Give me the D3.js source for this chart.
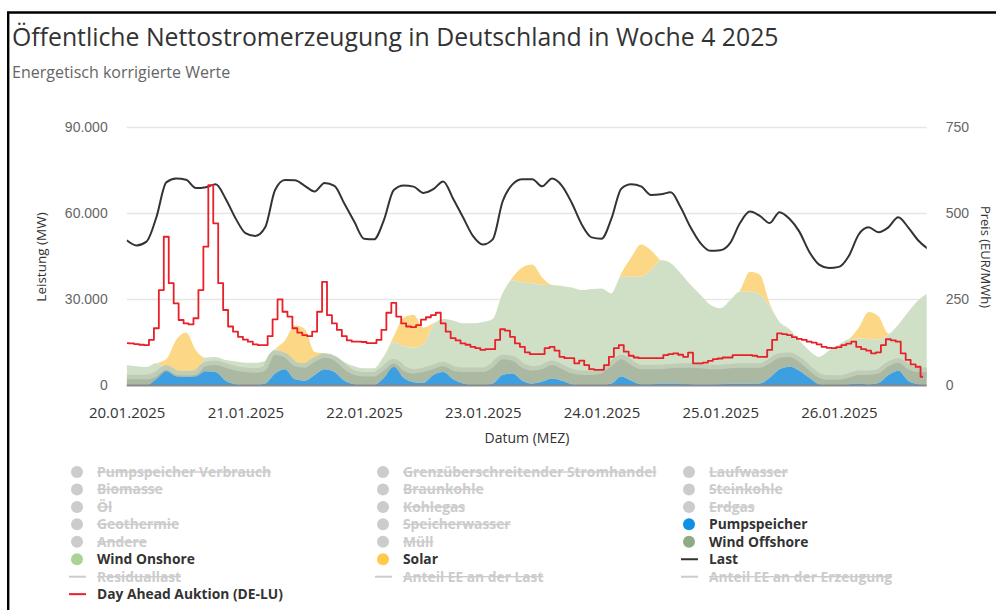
<!DOCTYPE html>
<html lang="de">
<head>
<meta charset="utf-8">
<script src="https://cdn.jsdelivr.net/npm/d3@7"></script>
<style>
  html, body { margin: 0; padding: 0; background: #fff; }
  svg { display: block; font-family: "Open Sans", "Noto Sans", sans-serif; }
</style>
</head>
<body>
<svg id="chart" width="996" height="610"></svg>
<script>
// Week 4 / 2025 – public net electricity generation in Germany
const weekStart = new Date(2025, 0, 20, 0, 0);
const weekEndHours = 161.75;           // data available up to 26.01. 17:45

// x-axis labels (one per day)
const dayLabels = ["20.01.2025", "21.01.2025", "22.01.2025", "23.01.2025",
                   "24.01.2025", "25.01.2025", "26.01.2025"];
const powerTicks = [0, 30000, 60000, 90000];
const priceTicks = [0, 250, 500, 750];

// Generation series in MW, one value every 2 hours starting 20.01. 00:00
const pumpspeicher = [0, 0, 0, 2000, 4800, 3000, 2800, 3000, 4800, 4500, 1500, 300,
  0, 0, 500, 4000, 5500, 2000, 1500, 3500, 5500, 4500, 1500, 300,
  0, 0, 2500, 6300, 2500, 1000, 800, 3500, 4500, 2000, 500, 0,
  0, 500, 3500, 4000, 1500, 500, 1200, 2300, 1500, 300, 0, 0,
  0, 500, 3000, 1500, 300, 300, 500, 500, 400, 300, 200, 200,
  300, 400, 400, 400, 500, 2500, 5500, 6400, 5000, 2500, 300, 0,
  0, 300, 500, 200, 700, 3500, 5000, 1500, 300, 0];
const windOffshore = [2000, 2000, 2000, 1000, 500, 500, 500, 600, 1700, 2500, 4500, 4700,
  4500, 4300, 4500, 6500, 4000, 4500, 4500, 4500, 4000, 4000, 4000, 3200,
  3000, 3000, 2500, 1200, 2500, 3000, 3700, 2000, 2000, 3000, 4000, 4500,
  4500, 5500, 5500, 4500, 4500, 4500, 4300, 4700, 4000, 3700, 3500, 3500,
  4000, 6000, 6000, 5500, 5200, 5200, 5000, 5300, 5600, 5700, 5600, 5300,
  5200, 5400, 5600, 5600, 5500, 5000, 4000, 3400, 3000, 2500, 2200, 1800,
  1800, 2200, 3000, 3300, 3300, 3000, 2800, 4000, 4200, 4500];
const windOnshore = [5000, 4500, 4300, 4600, 200, 500, 500, 600, 3000, 2800, 2700, 3200,
  3300, 3500, 3500, 2000, 500, 1500, 1500, 1000, 1500, 1500, 2500, 3000,
  2800, 2800, 5000, 7500, 8500, 9000, 9500, 15500, 16500, 17500, 17000, 17000,
  17500, 17000, 23000, 28000, 29800, 30500, 29500, 27900, 29000, 30000, 29600, 30000,
  29700, 25500, 28800, 30800, 32300, 34500, 38000, 36700, 33000, 29000, 25700, 22500,
  21300, 23700, 26500, 26500, 25500, 20000, 12500, 9700, 7500, 7000, 7300, 10200,
  12200, 13500, 12700, 12500, 12000, 11000, 13200, 20000, 25000, 27500];
const solar = [0, 0, 0, 0, 3500, 11700, 14500, 7800, 0, 0, 0, 0,
  0, 0, 0, 0, 5500, 12800, 12000, 2500, 0, 0, 0, 0,
  0, 0, 0, 2000, 10000, 11500, 6000, 500, 0, 0, 0, 0,
  0, 0, 0, 1000, 5200, 6500, 2500, 0, 0, 0, 0, 0,
  0, 0, 1200, 6700, 11200, 7000, 0, 0, 0, 0, 0, 0,
  0, 0, 500, 7000, 7000, 1000, 0, 0, 0, 0, 0, 0,
  0, 0, 3800, 9500, 8000, 500, 0, 0, 0, 0];
// Load (Last) in MW, every 2 hours
const last = [50500, 48700, 50000, 58500, 70700, 72000, 71600, 68700, 69000, 70000, 65000, 58200,
  53000, 52000, 55000, 68000, 71500, 71400, 69500, 67500, 70500, 69500, 63300, 57000,
  51000, 50800, 57500, 68000, 69600, 69200, 67000, 68300, 71000, 65000, 58500, 52000,
  49000, 50800, 64000, 70000, 71800, 71800, 69300, 72000, 69500, 63500, 56000, 51500,
  51000, 58000, 68500, 70000, 69300, 66300, 66500, 67200, 62000, 55000, 49500, 46800,
  47000, 49500, 56500, 60500, 59000, 56500, 60300, 58000, 53500, 46500, 42000, 40800,
  41200, 45000, 52500, 55000, 53300, 55000, 58500, 55000, 50500, 47500];
// Day-ahead auction price DE-LU in EUR/MWh, hourly from 20.01. 00:00
const dayAhead = [122, 121, 119, 117, 116, 131, 165, 276, 431, 296, 237, 189, 179, 176, 194,
  276, 402, 581, 470, 296, 218, 170, 155, 140, 132, 126, 118, 116, 116, 142,
  191, 249, 213, 199, 165, 152, 145, 142, 155, 213, 300, 203, 179, 160, 142,
  130, 126, 126, 125, 122, 122, 131, 160, 210, 239, 199, 179, 170, 168, 174,
  190, 197, 203, 210, 179, 155, 136, 130, 121, 117, 111, 107, 102, 104, 104,
  131, 162, 158, 140, 121, 111, 95, 90, 90, 90, 107, 111, 100, 82, 78,
  78, 63, 71, 58, 46, 44, 44, 58, 82, 107, 116, 97, 85, 80, 78,
  78, 78, 78, 78, 87, 90, 92, 88, 82, 94, 63, 63, 65, 70, 75,
  77, 80, 80, 87, 87, 87, 87, 85, 82, 82, 102, 131, 150, 148, 145,
  139, 134, 131, 126, 123, 118, 111, 108, 107, 110, 116, 120, 126, 111, 104,
  100, 92, 95, 116, 133, 130, 126, 92, 73, 60, 53, 24];

// Legend entries (row-wise, three columns)
const legendItems = [
  { name: "Pumpspeicher Verbrauch", kind: "dot", color: "#cccccc", on: false },
  { name: "Grenzüberschreitender Stromhandel", kind: "dot", color: "#cccccc", on: false },
  { name: "Laufwasser", kind: "dot", color: "#cccccc", on: false },
  { name: "Biomasse", kind: "dot", color: "#cccccc", on: false },
  { name: "Braunkohle", kind: "dot", color: "#cccccc", on: false },
  { name: "Steinkohle", kind: "dot", color: "#cccccc", on: false },
  { name: "Öl", kind: "dot", color: "#cccccc", on: false },
  { name: "Kohlegas", kind: "dot", color: "#cccccc", on: false },
  { name: "Erdgas", kind: "dot", color: "#cccccc", on: false },
  { name: "Geothermie", kind: "dot", color: "#cccccc", on: false },
  { name: "Speicherwasser", kind: "dot", color: "#cccccc", on: false },
  { name: "Pumpspeicher", kind: "dot", color: "#0f90e3", on: true },
  { name: "Andere", kind: "dot", color: "#cccccc", on: false },
  { name: "Müll", kind: "dot", color: "#cccccc", on: false },
  { name: "Wind Offshore", kind: "dot", color: "#8fab85", on: true },
  { name: "Wind Onshore", kind: "dot", color: "#acd394", on: true },
  { name: "Solar", kind: "dot", color: "#ffc94c", on: true },
  { name: "Last", kind: "line", color: "#333333", on: true },
  { name: "Residuallast", kind: "line", color: "#cccccc", on: false },
  { name: "Anteil EE an der Last", kind: "line", color: "#cccccc", on: false },
  { name: "Anteil EE an der Erzeugung", kind: "line", color: "#cccccc", on: false },
  { name: "Day Ahead Auktion (DE-LU)", kind: "line", color: "#e8202a", on: true }
];

const svg = d3.select("#chart");
const plot = { left: 126.7, right: 926.7, top: 127, bottom: 385 };
const H = 3600 * 1000;
const atHour = h => new Date(weekStart.getTime() + h * H);

const x = d3.scaleTime()
  .domain([weekStart, atHour(weekEndHours)])
  .range([plot.left, plot.right]);
const yPower = d3.scaleLinear().domain([0, 90000]).range([plot.bottom, plot.top]);
const yPrice = d3.scaleLinear().domain([0, 750]).range([plot.bottom, plot.top]);

const de = d3.formatLocale({ decimal: ",", thousands: ".", grouping: [3], currency: ["", " €"] });
const fmtPower = de.format(",.0f");

// Frame
svg.append("line").attr("x1", 7).attr("x2", 996).attr("y1", 12.5).attr("y2", 12.5)
  .attr("stroke", "#000").attr("stroke-width", 2.4);
svg.append("line").attr("x1", 8.2).attr("x2", 8.2).attr("y1", 12).attr("y2", 610)
  .attr("stroke", "#000").attr("stroke-width", 2.4);

// Titles
svg.append("text").attr("x", 12).attr("y", 46)
  .attr("font-size", 24.8).attr("fill", "#333")
  .text("Öffentliche Nettostromerzeugung in Deutschland in Woche 4 2025");
svg.append("text").attr("x", 12).attr("y", 78)
  .attr("font-size", 16).attr("fill", "#666")
  .text("Energetisch korrigierte Werte");

// Grid
svg.append("g").selectAll("line").data(powerTicks.slice(1)).join("line")
  .attr("x1", plot.left).attr("x2", plot.right)
  .attr("y1", d => yPower(d) + 0.5).attr("y2", d => yPower(d) + 0.5)
  .attr("stroke", "#e6e6e6").attr("stroke-width", 1.3);

// Stacked generation areas
const rows = last.map((_, i) => ({
  t: atHour(i * 2),
  pumpspeicher: pumpspeicher[i], windOffshore: windOffshore[i],
  windOnshore: windOnshore[i], solar: solar[i]
}));
const keys = ["pumpspeicher", "windOffshore", "windOnshore", "solar"];
const stacked = d3.stack().keys(keys)(rows);
const fills = { pumpspeicher: "#3d9fdf", windOffshore: "#abb9a2", windOnshore: "#d0e0c7", solar: "#fcd886" };

svg.append("clipPath").attr("id", "plotClip").append("rect")
  .attr("x", plot.left).attr("y", plot.top - 10)
  .attr("width", plot.right - plot.left).attr("height", plot.bottom - plot.top + 10);

const g = svg.append("g").attr("clip-path", "url(#plotClip)");
const area = d3.area().curve(d3.curveMonotoneX)
  .x(d => x(d.data.t)).y0(d => yPower(d[0])).y1(d => yPower(d[1]));
const topLine = d3.line().curve(d3.curveMonotoneX)
  .x(d => x(d.data.t)).y(d => yPower(d[1]));

const layer = k => stacked.find(s => s.key === k);
g.append("path").datum(layer("solar")).attr("d", area).attr("fill", fills.solar);
g.append("path").datum(layer("windOnshore")).attr("d", area).attr("fill", fills.windOnshore);
// soft band along the offshore edge
g.append("path").datum(layer("windOffshore")).attr("d", topLine)
  .attr("fill", "none").attr("stroke", "#bfccb6").attr("stroke-width", 9);
g.append("path").datum(layer("windOffshore")).attr("d", area).attr("fill", fills.windOffshore);
g.append("path").datum(layer("pumpspeicher")).attr("d", area).attr("fill", fills.pumpspeicher);

// Baseline
svg.append("line").attr("x1", plot.left).attr("x2", plot.right)
  .attr("y1", plot.bottom + 0.5).attr("y2", plot.bottom + 0.5)
  .attr("stroke", "#8a8a8a").attr("stroke-width", 2);

// Load line
g.append("path").datum(last)
  .attr("d", d3.line().curve(d3.curveMonotoneX)
    .x((d, i) => x(atHour(i * 2))).y(d => yPower(d)))
  .attr("fill", "none").attr("stroke", "#333").attr("stroke-width", 2);

// Day-ahead price (hourly steps)
g.append("path").datum(dayAhead)
  .attr("d", d3.line().curve(d3.curveStep)
    .x((d, i) => x(atHour(i))).y(d => yPrice(d)))
  .attr("fill", "none").attr("stroke", "#e8202a").attr("stroke-width", 1.8)
  .attr("stroke-linejoin", "round");

// Axes
const parseDay = d3.timeParse("%d.%m.%Y");
const xAxis = d3.axisBottom(x)
  .tickValues(dayLabels.map(parseDay))
  .tickFormat(d3.timeFormat("%d.%m.%Y"))
  .tickSize(0).tickPadding(22);
const ax = svg.append("g").attr("transform", `translate(0,${plot.bottom})`).call(xAxis);
ax.select(".domain").remove();
ax.selectAll("text").attr("font-size", 15).attr("fill", "#333")
  .attr("font-family", "'Open Sans', sans-serif");

const yl = svg.append("g").attr("transform", `translate(${plot.left},0)`)
  .call(d3.axisLeft(yPower).tickValues(powerTicks).tickFormat(fmtPower).tickSize(0).tickPadding(19));
yl.select(".domain").remove();
yl.selectAll("text").attr("font-size", 14).attr("fill", "#666");

const yr = svg.append("g").attr("transform", `translate(${plot.right},0)`)
  .call(d3.axisRight(yPrice).tickValues(priceTicks).tickSize(0).tickPadding(19));
yr.select(".domain").remove();
yr.selectAll("text").attr("font-size", 14).attr("fill", "#666");

svg.append("text").attr("transform", "translate(46,257) rotate(-90)")
  .attr("text-anchor", "middle").attr("font-size", 13.5).attr("fill", "#333")
  .text("Leistung (MW)");
svg.append("text").attr("transform", "translate(981,257) rotate(90)")
  .attr("text-anchor", "middle").attr("font-size", 13).attr("fill", "#333")
  .text("Preis (EUR/MWh)");
svg.append("text").attr("x", 527).attr("y", 443)
  .attr("text-anchor", "middle").attr("font-size", 14).attr("fill", "#333")
  .text("Datum (MEZ)");

// Legend
const colX = [77, 383, 689];
const rowY0 = 472, rowStep = 17.45;
const lg = svg.append("g");
legendItems.forEach((it, i) => {
  const cx = colX[i % 3], cy = rowY0 + Math.floor(i / 3) * rowStep;
  if (it.kind === "dot") {
    lg.append("circle").attr("cx", cx).attr("cy", cy).attr("r", 6).attr("fill", it.color);
  } else {
    lg.append("line").attr("x1", cx - 8).attr("x2", cx + 9).attr("y1", cy).attr("y2", cy)
      .attr("stroke", it.color).attr("stroke-width", 2);
  }
  lg.append("text").attr("x", cx + 20).attr("y", cy + 5)
    .attr("font-size", 13.8).attr("font-weight", 700)
    .attr("fill", it.on ? "#333" : "#cccccc")
    .attr("text-decoration", it.on ? null : "line-through")
    .text(it.name);
});
</script>
</body>
</html>
